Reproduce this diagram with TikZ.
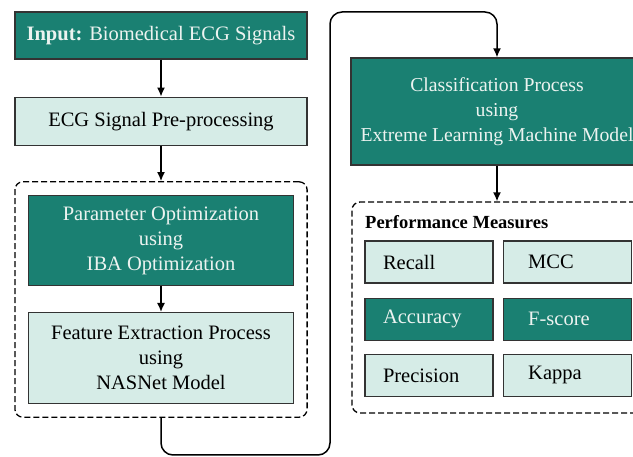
\documentclass[tikz,border=0pt]{standalone}
\usepackage{fontspec}
\setmainfont{Liberation Serif}
\usetikzlibrary{positioning, fit, arrows.meta}
\definecolor{darkteal}{RGB}{26,128,114}
\definecolor{lightteal}{RGB}{214,236,231}
\definecolor{paletext}{RGB}{236,243,240}

\begin{document}
\begin{tikzpicture}[x=1pt, y=1pt, font=\fontsize{20.5}{25}\selectfont, >={Latex[length=9pt,width=8pt]}]
	\tikzstyle{dark}=[draw=black!80, line width=1.2pt, fill=darkteal, text=paletext, align=center]
	\tikzstyle{light}=[draw=black!80, line width=1.2pt, fill=lightteal, text=black, align=center]
	\tikzstyle{group}=[draw, line width=1.3pt, dash pattern=on 6pt off 3pt, rounded corners=8pt]
	\tikzstyle{flow}=[->, line width=1.5pt]
	\tikzstyle{metric}=[minimum width=128pt, minimum height=42pt, inner xsep=18pt, text width=92pt, align=left]
	\tikzstyle{metric r}=[metric, inner xsep=25pt, text width=78pt]
	
	\useasboundingbox (0,0) rectangle (633,-457);
	\clip (0,0) rectangle (633,-457);
	
	% left column
	\node[dark, minimum width=292pt, minimum height=47pt] (in) at (161,-35.5) {\textbf{Input:} Biomedical ECG Signals};
	\node[light, minimum width=292pt, minimum height=48pt, below=37pt of in] (pre) {ECG Signal Pre-processing};
	\node[dark, minimum width=265pt, minimum height=90pt, below=49pt of pre] (param) {Parameter Optimization\\using\\IBA Optimization};
	\node[light, minimum width=265pt, minimum height=91pt, below=26pt of param] (feat) {Feature Extraction Process\\using\\NASNet Model};
	\node[group, fit=(param)(feat), inner xsep=13pt, inner ysep=13pt] (grp1) {};
	
	% right column
	\node[dark, minimum width=292pt, minimum height=107pt, font=\fontsize{19.7}{25}\selectfont] (cls) at (497,-111.5) {Classification Process\\using\\Extreme Learning Machine Model};
	\node[anchor=base west, inner sep=0pt, font=\bfseries\fontsize{18.5}{22}\selectfont] (pm) at (365,-229) {Performance Measures};
	\node[light, metric] (recall) at (429,-262) {Recall};
	\node[light, metric r, right=9pt of recall] (mcc) {MCC};
	\node[dark, metric, below=14pt of recall] (acc) {Accuracy};
	\node[dark, metric r, right=9pt of acc] (fscore) {F-score};
	\node[light, metric, below=13pt of acc] (prec) {Precision};
	\node[light, metric r, right=9pt of prec] (kappa) {Kappa};
	\node[group, fit={(352,-202) (643,-413)}, inner sep=0pt] (grp2) {};
	
	% connectors
	\coordinate (lo) at (330,-455);
	\coordinate (hi) at (330,-12);
	\draw[flow] (in) -- (pre);
	\draw[flow] (pre) -- (grp1);
	\draw[flow] (param) -- (feat);
	\draw[flow, rounded corners=12pt] (grp1.south) |- (lo) -- (hi) -| (cls.north);
	\draw[flow] (cls.south) -- (cls.south |- grp2.north);
\end{tikzpicture}
\end{document}
